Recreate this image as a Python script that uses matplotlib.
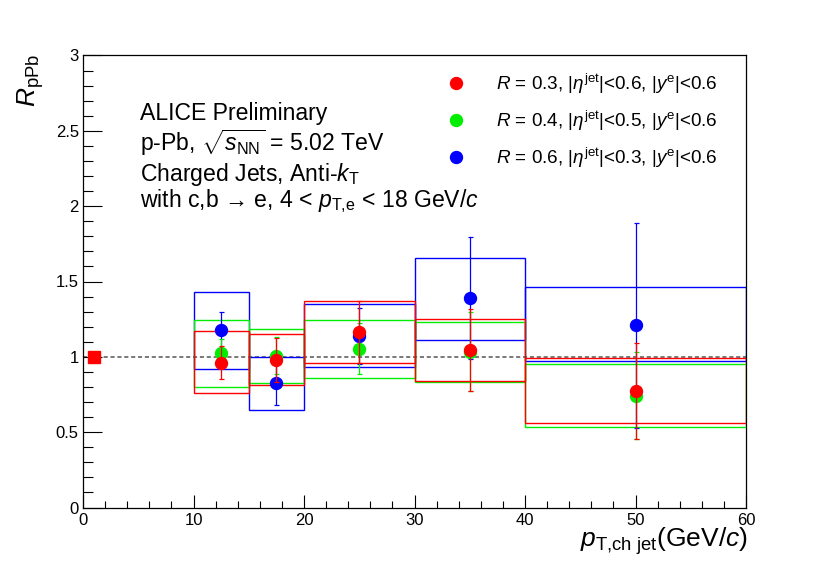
import numpy as np
import matplotlib
matplotlib.use("Agg")
import matplotlib.pyplot as plt
from matplotlib.patches import Rectangle
from matplotlib.lines import Line2D
from matplotlib.ticker import MultipleLocator

plt.rcParams["font.family"] = ["Liberation Sans", "DejaVu Sans"]
plt.rcParams["mathtext.fontset"] = "custom"
plt.rcParams["mathtext.rm"] = "Liberation Sans"
plt.rcParams["mathtext.it"] = "Liberation Sans:italic"
plt.rcParams["mathtext.bf"] = "Liberation Sans:bold"

# bins in pT,ch jet (GeV/c)
bin_lo = [10, 15, 20, 30, 40]
bin_hi = [15, 20, 30, 40, 60]
x_pt = [12.5, 17.5, 25, 35, 50]

# R = 0.3
r3_y = [0.962, 0.980, 1.164, 1.046, 0.774]
r3_stat = [0.107, 0.146, 0.207, 0.272, 0.317]
r3_sys_lo = [0.757, 0.812, 0.958, 0.842, 0.560]
r3_sys_hi = [1.172, 1.153, 1.372, 1.252, 0.990]

# R = 0.4
r4_y = [1.025, 1.007, 1.053, 1.035, 0.741]
r4_stat = [0.092, 0.124, 0.170, 0.265, 0.288]
r4_sys_lo = [0.800, 0.825, 0.859, 0.833, 0.531]
r4_sys_hi = [1.245, 1.184, 1.245, 1.232, 0.953]

# R = 0.6
r6_y = [1.175, 0.825, 1.140, 1.390, 1.208]
r6_stat = [0.123, 0.145, 0.185, 0.403, 0.683]
r6_sys_lo = [0.920, 0.648, 0.932, 1.113, 0.975]
r6_sys_hi = [1.430, 1.002, 1.352, 1.659, 1.462]

labels = [r"$R$ = 0.3, |$\eta^{\rm jet}$|<0.6, |$y^{\rm e}$|<0.6",
          r"$R$ = 0.4, |$\eta^{\rm jet}$|<0.5, |$y^{\rm e}$|<0.6",
          r"$R$ = 0.6, |$\eta^{\rm jet}$|<0.3, |$y^{\rm e}$|<0.6"]
colors = ["#ff0000", "#00ee00", "#0000ff"]

norm_x, norm_y = [1.0], [1.0]

fig = plt.figure(figsize=(8.30, 5.64), dpi=100)
ax = fig.add_axes([83 / 830, 1 - 507.5 / 564, (746 - 83) / 830, (507.5 - 55.5) / 564])

ax.axhline(1.0, color="#555555", lw=1.1, ls=(0, (2.7, 1.8)), zorder=1)

series = [
    (r3_y, r3_stat, r3_sys_lo, r3_sys_hi),
    (r4_y, r4_stat, r4_sys_lo, r4_sys_hi),
    (r6_y, r6_stat, r6_sys_lo, r6_sys_hi),
]
# draw blue first, red last (red on top)
order = [2, 1, 0]
for k, i in enumerate(order):
    y, st, lo, hi = series[i]
    c = colors[i]
    for b in range(len(bin_lo)):
        ax.add_patch(Rectangle((bin_lo[b], lo[b]), bin_hi[b] - bin_lo[b], hi[b] - lo[b],
                               fill=False, ec=c, lw=1.0, zorder=2 + k))
    ax.errorbar(x_pt, y, yerr=st, fmt="o", color=c, ms=8.6, mec=c, elinewidth=0.9,
                capsize=1.8, capthick=0.9, zorder=5 + k)

ax.plot(norm_x, norm_y, "s", color="#ff0000", ms=8.4, zorder=9, clip_on=False)

ax.set_xlim(0, 60)
ax.set_ylim(0, 3)
ax.xaxis.set_major_locator(MultipleLocator(10))
ax.xaxis.set_minor_locator(MultipleLocator(2))
ax.yaxis.set_major_locator(MultipleLocator(0.5))
ax.yaxis.set_minor_locator(MultipleLocator(0.1))
ax.set_yticks([0, 0.5, 1, 1.5, 2, 2.5, 3])
ax.set_yticklabels(["0", "0.5", "1", "1.5", "2", "2.5", "3"])
ax.tick_params(axis="x", which="major", direction="in", length=9.6, width=0.8, labelsize=12, pad=4)
ax.tick_params(axis="x", which="minor", direction="in", length=4.8, width=0.8)
ax.tick_params(axis="y", which="major", direction="in", length=14, width=0.8, labelsize=12, pad=3)
ax.tick_params(axis="y", which="minor", direction="in", length=7, width=0.8)
for s in ax.spines.values():
    s.set_linewidth(0.9)

fig.text(748 / 830, 1 - 547 / 564, r"$p_{\rm T{,}ch\ jet}$(GeV/$c$)", ha="right", va="baseline", fontsize=19)
fig.text(31 / 830, 1 - 54 / 564, r"$R_{\rm pPb}$", rotation=90, ha="center", va="top", fontsize=19)

info = ["ALICE Preliminary",
        r"p-Pb, $\sqrt{s_{\rm NN}}$ = 5.02 TeV",
        r"Charged Jets, Anti-$k_{\rm T}$",
        r"with c,b → e, 4 < $p_{\rm T{,}e}$ < 18 GeV/$c$"]
info_base = [120, 151, 181, 207]
for t, yb in zip(info, info_base):
    fig.text(140 / 830, 1 - yb / 564, t, ha="left", va="baseline", fontsize=16.6)

handles = [Line2D([], [], ls="none", marker="o", color=c, ms=8.6) for c in colors]
ax.legend(handles, labels, loc="upper left", bbox_to_anchor=(447 / 830, 1 - 72 / 564),
          bbox_transform=fig.transFigure, frameon=False, fontsize=13.6, handlelength=0.92,
          handletextpad=1.65, borderpad=0, borderaxespad=0, labelspacing=0.68)

fig.savefig("out.png", dpi=100)
